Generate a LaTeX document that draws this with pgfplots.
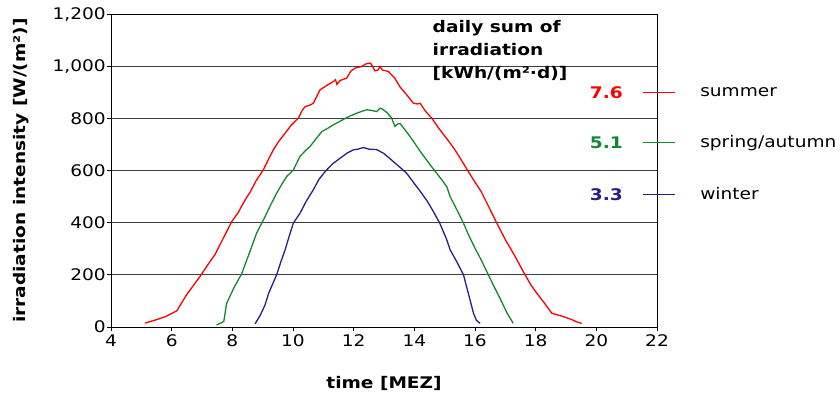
\documentclass[border=0pt]{standalone}
\usepackage{fontspec}
\setmainfont{DejaVu Sans}[FakeStretch=1.16]
\usepackage{pgfplots}
\pgfplotsset{compat=1.18}
\usepackage{pgfplotstable}
\definecolor{cred}{RGB}{255,0,0}
\definecolor{cgreen}{RGB}{20,135,50}
\definecolor{cblue}{RGB}{40,30,135}

\pgfplotstableread{
x y
5.12 15
5.5 28
5.8 40
6.17 62
6.5 125
6.93 193
7.2 240
7.43 278
7.7 340
7.98 404
8.2 440
8.36 475
8.6 520
8.80 564
9.02 602
9.2 645
9.35 679
9.55 715
9.74 743
9.95 775
10.18 801
10.30 830
10.40 845
10.55 850
10.67 858
10.89 909
11.1 925
11.33 941
11.40 948
11.45 930
11.55 945
11.77 954
11.9 980
12.05 993
12.25 998
12.43 1010
12.55 1012
12.62 1000
12.70 982
12.80 985
12.87 999
12.95 985
13.14 980
13.35 955
13.53 920
13.75 890
13.97 858
14.1 855
14.19 858
14.35 830
14.57 801
14.85 755
15.18 705
15.34 679
15.55 640
15.78 596
16.0 555
16.2 520
16.5 450
16.72 398
17.0 335
17.3 275
17.65 200
17.85 160
18.04 129
18.3 90
18.53 53
18.7 47
18.91 40
19.2 28
19.35 20
19.52 14
}\summer

\pgfplotstableread{
x y
7.48 8
7.65 17
7.72 22
7.81 90
8.05 150
8.31 205
8.55 280
8.80 360
9.08 423
9.25 465
9.46 513
9.62 545
9.79 577
10.01 602
10.23 654
10.40 675
10.56 692
10.75 720
10.95 749
11.15 762
11.33 775
11.6 792
11.88 809
12.15 822
12.43 833
12.60 830
12.76 826
12.87 839
12.95 835
13.1 822
13.25 801
13.36 769
13.45 778
13.53 780
13.70 755
13.86 730
14.05 698
14.24 666
14.50 625
14.74 589
14.90 565
15.07 538
15.18 500
15.40 450
15.62 398
15.80 350
16.00 302
16.2 258
16.44 200
16.65 150
16.88 97
17.05 55
17.26 14
}\spring

\pgfplotstableread{
x y
8.75 12
8.92 45
9.08 85
9.2 130
9.46 200
9.60 250
9.74 296
9.88 350
10.01 398
10.23 436
10.45 485
10.67 526
10.85 565
11.06 596
11.3 625
11.55 647
11.8 668
11.99 679
12.15 682
12.32 688
12.50 682
12.76 680
13.0 665
13.20 645
13.40 625
13.53 612
13.75 589
14.0 550
14.24 513
14.45 478
14.63 442
14.85 395
15.07 334
15.18 296
15.40 250
15.62 200
15.78 129
15.95 53
16.05 25
16.17 14
}\winter

\begin{document}
\begin{tikzpicture}[font=\fontsize{16}{19}\selectfont]
\useasboundingbox (-111pt,-69pt) rectangle (729pt,327pt);
\begin{axis}[
  at={(0pt,0pt)}, anchor=south west,
  scale only axis, width=546pt, height=313pt,
  xmin=4, xmax=22, ymin=0, ymax=1200,
  xtick={4,6,...,22}, ytick={0,200,...,1200},
  scaled ticks=false,
  ymajorgrids, grid style={black!75, line width=0.9pt},
  axis line style={line width=0.8pt},
  tick style={black, line width=0.8pt},
  tick align=outside, tick pos=left, major tick length=4pt,
  clip=false,
  /pgf/number format/assume math mode=true,
  /pgf/number format/1000 sep={,},
  yticklabel style={inner sep=1pt},
  xlabel={\bfseries time [MEZ]},
  ylabel={\bfseries irradiation intensity [W/(m²)]},
  xlabel style={at={(axis description cs:0.5,-0.18)}, anchor=center},
  ylabel style={at={(axis description cs:-0.1648,0.5)}, anchor=center},
]
\addplot[cred, line width=1.3pt] table[x=x,y=y] {\summer};
\addplot[cgreen, line width=1.3pt] table[x=x,y=y] {\spring};
\addplot[cblue, line width=1.3pt] table[x=x,y=y] {\winter};
\addplot[cred, line width=1.2pt, forget plot] coordinates {(21.54,900) (22.59,900)};
\addplot[cgreen, line width=1.2pt, forget plot] coordinates {(21.54,706) (22.59,706)};
\addplot[cblue, line width=1.2pt, forget plot] coordinates {(21.54,507) (22.59,507)};
\node[anchor=base east, inner sep=0pt, text=cred, font=\bfseries\fontsize{16}{19}\selectfont, yshift=-5.8pt] at (axis cs:20.88,900) {7.6};
\node[anchor=base east, inner sep=0pt, text=cgreen, font=\bfseries\fontsize{16}{19}\selectfont, yshift=-5.8pt] at (axis cs:20.88,706) {5.1};
\node[anchor=base east, inner sep=0pt, text=cblue, font=\bfseries\fontsize{16}{19}\selectfont, yshift=-5.8pt] at (axis cs:20.88,507) {3.3};
\node[anchor=base west, inner sep=0pt, yshift=-4.4pt] at (axis cs:23.42,900) {summer};
\node[anchor=base west, inner sep=0pt, yshift=-4.4pt] at (axis cs:23.42,706) {spring/autumn};
\node[anchor=base west, inner sep=0pt, yshift=-4.4pt] at (axis cs:23.42,507) {winter};
\node[anchor=north west, inner sep=0pt, align=left, font=\bfseries\fontsize{16}{23}\selectfont] at (axis cs:14.60,1178) {daily sum of\\irradiation\\{[}kWh/(m²·d){]}};
\end{axis}
\end{tikzpicture}
\end{document}
